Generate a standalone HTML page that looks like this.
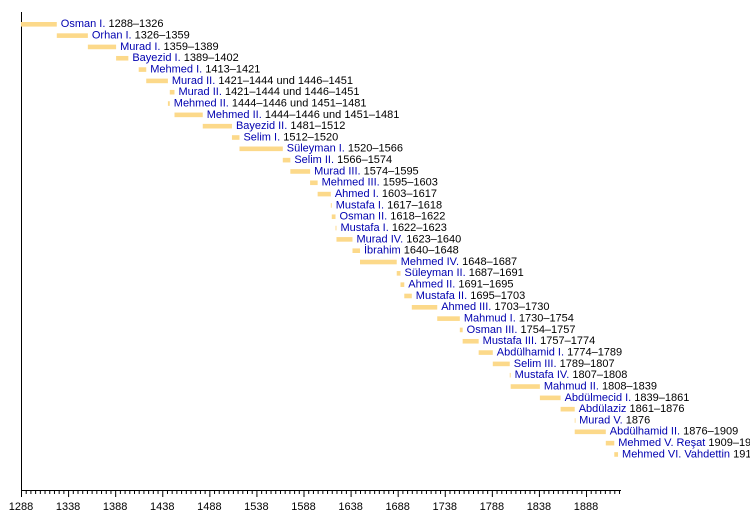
<!DOCTYPE html>
<html><head><meta charset="utf-8"><style>
body{margin:0;background:#fff}
svg text{font-family:"Liberation Sans",sans-serif;font-size:11px}
</style></head><body>
<svg width="750" height="520" xmlns="http://www.w3.org/2000/svg" id="s">
<line x1="21.5" y1="12" x2="21.5" y2="490" stroke="#000"/>
<line x1="21" y1="490.5" x2="621" y2="490.5" stroke="#000"/>
<g id="ticks"></g>
<g id="rows"></g>
</svg>
<script>
var ns="http://www.w3.org/2000/svg",s=0.9417,x0=21;
function X(y){return x0+(y-1288)*s}
var t=document.getElementById('ticks'),h='';
for(var y=1288;y<=1925;y+=5){var mj=(y-1288)%50==0;var xx=X(y)+0.5;
h+='<line x1="'+xx+'" y1="490" x2="'+xx+'" y2="'+(mj?497:494)+'" stroke="#000"/>';
if(mj&&y<=1888)h+='<text x="'+(xx-0.5)+'" y="510" text-anchor="middle">'+y+'</text>';}
t.innerHTML=h;
var d=[["Osman I.","1288–1326",1288,1326],["Orhan I.","1326–1359",1326,1359],["Murad I.","1359–1389",1359,1389],["Bayezid I.","1389–1402",1389,1402],["Mehmed I.","1413–1421",1413,1421],["Murad II.","1421–1444 und 1446–1451",1421,1444],["Murad II.","1421–1444 und 1446–1451",1446,1451],["Mehmed II.","1444–1446 und 1451–1481",1444,1446],["Mehmed II.","1444–1446 und 1451–1481",1451,1481],["Bayezid II.","1481–1512",1481,1512],["Selim I.","1512–1520",1512,1520],["Süleyman I.","1520–1566",1520,1566],["Selim II.","1566–1574",1566,1574],["Murad III.","1574–1595",1574,1595],["Mehmed III.","1595–1603",1595,1603],["Ahmed I.","1603–1617",1603,1617],["Mustafa I.","1617–1618",1617,1618],["Osman II.","1618–1622",1618,1622],["Mustafa I.","1622–1623",1622,1623],["Murad IV.","1623–1640",1623,1640],["İbrahim","1640–1648",1640,1648],["Mehmed IV.","1648–1687",1648,1687],["Süleyman II.","1687–1691",1687,1691],["Ahmed II.","1691–1695",1691,1695],["Mustafa II.","1695–1703",1695,1703],["Ahmed III.","1703–1730",1703,1730],["Mahmud I.","1730–1754",1730,1754],["Osman III.","1754–1757",1754,1757],["Mustafa III.","1757–1774",1757,1774],["Abdülhamid I.","1774–1789",1774,1789],["Selim III.","1789–1807",1789,1807],["Mustafa IV.","1807–1808",1807,1808],["Mahmud II.","1808–1839",1808,1839],["Abdülmecid I.","1839–1861",1839,1861],["Abdülaziz","1861–1876",1861,1876],["Murad V.","1876",1876,1876.4],["Abdülhamid II.","1876–1909",1876,1909],["Mehmed V. Reşat","1909–1918",1909,1918],["Mehmed VI. Vahdettin","1918–1922",1918,1922]];
var r='';
d.forEach(function(e,i){var top=22+i*11.32,a=X(e[2]),b=X(e[3]);
r+='<rect x="'+a+'" y="'+top+'" width="'+Math.max(b-a,0.8)+'" height="4.6" fill="#fcd98a"/>';
r+='<text x="'+(b+4)+'" y="'+(top+5.2)+'"><tspan fill="#0000b0">'+e[0]+'</tspan> '+e[1]+'</text>';});
document.getElementById('rows').innerHTML=r;
</script>
</body></html>
